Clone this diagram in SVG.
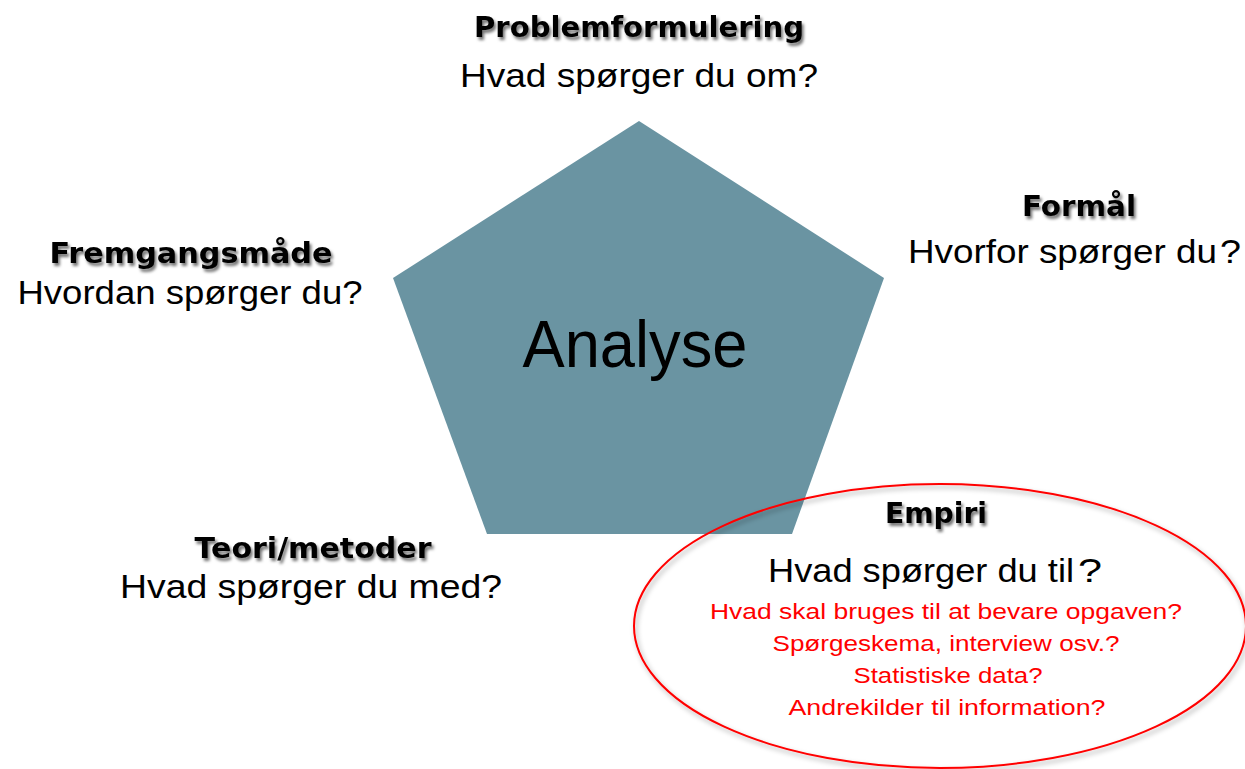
<svg xmlns="http://www.w3.org/2000/svg" width="1245" height="769" viewBox="0 0 1245 769">
  <defs>
    <filter id="txtShadow" x="-10%" y="-30%" width="120%" height="170%">
      <feDropShadow dx="2" dy="3" stdDeviation="1.6" flood-color="#000" flood-opacity="0.55"/>
    </filter>
    <filter id="ellShadow" x="-10%" y="-20%" width="120%" height="140%">
      <feDropShadow dx="2" dy="3" stdDeviation="2.5" flood-color="#000" flood-opacity="0.35"/>
    </filter>
  </defs>
  <style>
    .head { font-family: "DejaVu Sans", "Liberation Sans", sans-serif; font-weight: bold; font-size: 29px; fill: #000; text-anchor: middle; filter: url(#txtShadow); }
    .sub { font-family: "Liberation Sans", "DejaVu Sans", sans-serif; font-size: 34px; fill: #000; }
    .mid { text-anchor: middle; }
    .red { font-family: "Liberation Sans", "DejaVu Sans", sans-serif; font-size: 22px; fill: #ff0000; text-anchor: middle; }
  </style>
  <rect width="1245" height="769" fill="#ffffff"/>

  <g id="analyse">
    <polygon points="639,121 884,278 792,534 487,534 393,278" fill="#6a94a2"/>
    <text x="635" y="367" font-family="Liberation Sans, DejaVu Sans, sans-serif" font-size="66" fill="#000" text-anchor="middle" textLength="225" lengthAdjust="spacingAndGlyphs">Analyse</text>
  </g>

  <g id="problemformulering">
    <text class="head" x="639" y="37" textLength="330" lengthAdjust="spacingAndGlyphs">Problemformulering</text>
    <text class="sub mid" x="639" y="87" textLength="358" lengthAdjust="spacingAndGlyphs">Hvad spørger du om?</text>
  </g>

  <g id="formaal">
    <text class="head" x="1079" y="216" textLength="114" lengthAdjust="spacingAndGlyphs">Formål</text>
    <text class="sub" x="908" y="263" font-size="30" textLength="309" lengthAdjust="spacingAndGlyphs">Hvorfor spørger du</text>
    <text class="sub" x="1220" y="263" font-size="37" textLength="21" lengthAdjust="spacingAndGlyphs">?</text>
  </g>

  <g id="fremgangsmaade">
    <text class="head" x="191" y="263" textLength="283" lengthAdjust="spacingAndGlyphs">Fremgangsmåde</text>
    <text class="sub mid" x="190" y="304" textLength="345" lengthAdjust="spacingAndGlyphs">Hvordan spørger du?</text>
  </g>

  <g id="teori">
    <text class="head" x="313" y="558" textLength="237" lengthAdjust="spacingAndGlyphs">Teori/metoder</text>
    <text class="sub mid" x="311" y="598" textLength="382" lengthAdjust="spacingAndGlyphs">Hvad spørger du med?</text>
  </g>

  <g id="empiri">
    <ellipse cx="940" cy="626" rx="306" ry="142" fill="none" stroke="#ff0000" stroke-width="2" filter="url(#ellShadow)"/>
    <text class="head" x="936" y="523" textLength="102" lengthAdjust="spacingAndGlyphs">Empiri</text>
    <text class="sub" x="768" y="582" font-size="34" textLength="306" lengthAdjust="spacingAndGlyphs">Hvad spørger du til</text>
    <text class="sub" x="1078" y="582" font-size="45" textLength="24" lengthAdjust="spacingAndGlyphs">?</text>
    <text class="red" x="946" y="619" textLength="472" lengthAdjust="spacingAndGlyphs">Hvad skal bruges til at bevare opgaven?</text>
    <text class="red" x="946" y="651" textLength="347" lengthAdjust="spacingAndGlyphs">Spørgeskema, interview osv.?</text>
    <text class="red" x="948" y="683" textLength="189" lengthAdjust="spacingAndGlyphs">Statistiske data?</text>
    <text class="red" x="947" y="715" textLength="317" lengthAdjust="spacingAndGlyphs">Andrekilder til information?</text>
  </g>
</svg>
